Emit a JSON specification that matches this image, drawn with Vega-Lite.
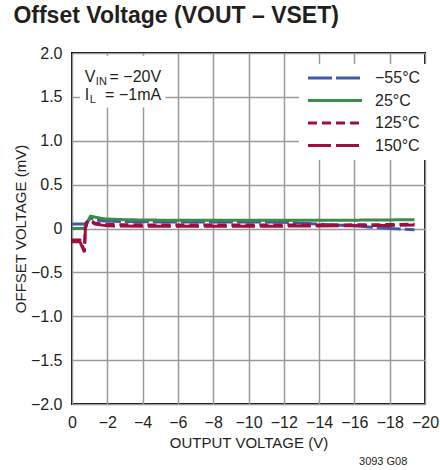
{
  "$schema": "https://vega.github.io/schema/vega-lite/v6.json",
  "width": 353,
  "height": 351,
  "autosize": "none",
  "padding": {"left": 72, "top": 53, "right": 15, "bottom": 66},
  "title": {"text": "Offset Voltage (VOUT – VSET)", "anchor": "start", "font": "Liberation Sans", "fontWeight": "bold", "fontSize": 23, "offset": 17, "color": "#231f20"},
  "config": {
    "font": "Liberation Sans",
    "view": {"stroke": "#000000", "strokeWidth": 2},
    "axis": {"domain": false, "grid": true, "gridColor": "#9a9a9a", "gridWidth": 1.5, "ticks": false, "labelFont": "Liberation Sans", "labelFontSize": 16, "labelColor": "#231f20", "titleFont": "Liberation Sans", "titleFontSize": 15, "titleFontWeight": "normal", "titleColor": "#231f20"},
    "legend": {"labelFont": "Liberation Sans"}
  },
  "datasets": {
    "curves": [
      {"series": "−55°C", "v": 0, "mv": 0.05},
      {"series": "−55°C", "v": -0.7, "mv": 0.05},
      {"series": "−55°C", "v": -0.85, "mv": 0.07},
      {"series": "−55°C", "v": -1.05, "mv": 0.12},
      {"series": "−55°C", "v": -1.3, "mv": 0.1},
      {"series": "−55°C", "v": -1.8, "mv": 0.085},
      {"series": "−55°C", "v": -3, "mv": 0.08},
      {"series": "−55°C", "v": -5, "mv": 0.075},
      {"series": "−55°C", "v": -8, "mv": 0.075},
      {"series": "−55°C", "v": -10, "mv": 0.075},
      {"series": "−55°C", "v": -12, "mv": 0.07},
      {"series": "−55°C", "v": -13, "mv": 0.06},
      {"series": "−55°C", "v": -14, "mv": 0.05},
      {"series": "−55°C", "v": -15, "mv": 0.04},
      {"series": "−55°C", "v": -16, "mv": 0.03},
      {"series": "−55°C", "v": -17, "mv": 0.015},
      {"series": "−55°C", "v": -18, "mv": 0.0},
      {"series": "−55°C", "v": -19.4, "mv": -0.015},
      {"series": "25°C", "v": 0, "mv": 0.0},
      {"series": "25°C", "v": -0.7, "mv": 0.0},
      {"series": "25°C", "v": -0.85, "mv": 0.07},
      {"series": "25°C", "v": -1.05, "mv": 0.14},
      {"series": "25°C", "v": -1.3, "mv": 0.13},
      {"series": "25°C", "v": -1.8, "mv": 0.11},
      {"series": "25°C", "v": -3, "mv": 0.1},
      {"series": "25°C", "v": -5, "mv": 0.095},
      {"series": "25°C", "v": -8, "mv": 0.095},
      {"series": "25°C", "v": -12, "mv": 0.095},
      {"series": "25°C", "v": -16, "mv": 0.095},
      {"series": "25°C", "v": -19.4, "mv": 0.1},
      {"series": "125°C", "v": 0, "mv": -0.13},
      {"series": "125°C", "v": -0.45, "mv": -0.13},
      {"series": "125°C", "v": -0.6, "mv": -0.2},
      {"series": "125°C", "v": -0.7, "mv": -0.26},
      {"series": "125°C", "v": -0.75, "mv": 0.0},
      {"series": "125°C", "v": -0.85, "mv": 0.07},
      {"series": "125°C", "v": -1.0, "mv": 0.1},
      {"series": "125°C", "v": -1.3, "mv": 0.06},
      {"series": "125°C", "v": -2, "mv": 0.045},
      {"series": "125°C", "v": -5, "mv": 0.04},
      {"series": "125°C", "v": -10, "mv": 0.04},
      {"series": "125°C", "v": -15, "mv": 0.04},
      {"series": "125°C", "v": -18, "mv": 0.045},
      {"series": "125°C", "v": -19.4, "mv": 0.05},
      {"series": "150°C", "v": 0, "mv": -0.15},
      {"series": "150°C", "v": -0.45, "mv": -0.15},
      {"series": "150°C", "v": -0.6, "mv": -0.22},
      {"series": "150°C", "v": -0.7, "mv": -0.27},
      {"series": "150°C", "v": -0.76, "mv": 0.0},
      {"series": "150°C", "v": -0.86, "mv": 0.07},
      {"series": "150°C", "v": -1.0, "mv": 0.09},
      {"series": "150°C", "v": -1.3, "mv": 0.05},
      {"series": "150°C", "v": -2, "mv": 0.03},
      {"series": "150°C", "v": -5, "mv": 0.025},
      {"series": "150°C", "v": -10, "mv": 0.025},
      {"series": "150°C", "v": -15, "mv": 0.03},
      {"series": "150°C", "v": -18, "mv": 0.035},
      {"series": "150°C", "v": -19.4, "mv": 0.04}
    ],
    "one": [{}]
  },
  "encoding": {
    "x": {"type": "quantitative", "scale": {"domain": [0, -20], "nice": false, "zero": false},
      "axis": {"title": "OUTPUT VOLTAGE (V)", "values": [0, -2, -4, -6, -8, -10, -12, -14, -16, -18, -20], "format": "d", "labelPadding": 10, "titlePadding": 5, "labelFlush": false, "labelOverlap": false}},
    "y": {"type": "quantitative", "scale": {"domain": [-2, 2], "nice": false, "zero": false},
      "axis": {"title": "OFFSET VOLTAGE (mV)", "values": [-2, -1.5, -1, -0.5, 0, 0.5, 1, 1.5, 2], "labelExpr": "datum.value == 0 ? '0' : format(datum.value, '.1f')", "labelPadding": 10, "titlePadding": 2, "labelFlush": false, "labelOverlap": false}}
  },
  "layer": [
    {
      "data": {"name": "one"},
      "mark": {"type": "rect", "fill": "white"},
      "encoding": {"x": {"datum": -0.45}, "x2": {"datum": -5.3}, "y": {"datum": 1.97}, "y2": {"datum": 1.38}}
    },
    {
      "data": {"name": "curves"},
      "mark": {"type": "line", "strokeWidth": 3, "strokeCap": "butt"},
      "encoding": {
        "x": {"field": "v"},
        "y": {"field": "mv"},
        "color": {"field": "series", "type": "nominal",
          "scale": {"domain": ["−55°C", "25°C", "125°C", "150°C"], "range": ["#3d5ca8", "#3b8c4a", "#9c0f3f", "#9c0f3f"]},
          "legend": {"orient": "none", "legendX": 227, "legendY": 11, "title": null, "symbolType": "M-1,0H9.8", "symbolSize": 100, "symbolStrokeWidth": 3, "labelFontSize": 16, "labelColor": "#231f20", "rowPadding": 6.5, "fillColor": "white", "padding": 6, "labelOffset": 54}},
        "strokeDash": {"field": "series", "type": "nominal",
          "scale": {"domain": ["−55°C", "25°C", "125°C", "150°C"], "range": [[24, 4], [1, 0], [9, 5], [23, 5]]}},
        "order": {"field": "v", "sort": "descending"}
      }
    },
    {
      "data": {"name": "one"},
      "mark": {"type": "text", "align": "left", "baseline": "alphabetic", "fontSize": 16, "color": "#231f20"},
      "encoding": {"x": {"datum": -0.72}, "y": {"datum": 1.67}, "text": {"value": "V"}}
    },
    {
      "data": {"name": "one"},
      "mark": {"type": "text", "align": "left", "baseline": "alphabetic", "fontSize": 11, "dy": 3, "color": "#231f20"},
      "encoding": {"x": {"datum": -1.35}, "y": {"datum": 1.67}, "text": {"value": "IN"}}
    },
    {
      "data": {"name": "one"},
      "mark": {"type": "text", "align": "right", "baseline": "alphabetic", "fontSize": 16, "color": "#231f20"},
      "encoding": {"x": {"datum": -5.05}, "y": {"datum": 1.67}, "text": {"value": "= −20V"}}
    },
    {
      "data": {"name": "one"},
      "mark": {"type": "text", "align": "left", "baseline": "alphabetic", "fontSize": 16, "color": "#231f20"},
      "encoding": {"x": {"datum": -0.72}, "y": {"datum": 1.465}, "text": {"value": "I"}}
    },
    {
      "data": {"name": "one"},
      "mark": {"type": "text", "align": "left", "baseline": "alphabetic", "fontSize": 11, "dy": 3, "color": "#231f20"},
      "encoding": {"x": {"datum": -1.0}, "y": {"datum": 1.465}, "text": {"value": "L"}}
    },
    {
      "data": {"name": "one"},
      "mark": {"type": "text", "align": "right", "baseline": "alphabetic", "fontSize": 16, "color": "#231f20"},
      "encoding": {"x": {"datum": -5.05}, "y": {"datum": 1.465}, "text": {"value": "= −1mA"}}
    },
    {
      "data": {"name": "one"},
      "mark": {"type": "text", "align": "right", "baseline": "alphabetic", "fontSize": 11, "color": "#231f20"},
      "encoding": {"x": {"datum": -19.0}, "y": {"datum": -2.7}, "text": {"value": "3093 G08"}}
    }
  ]
}
